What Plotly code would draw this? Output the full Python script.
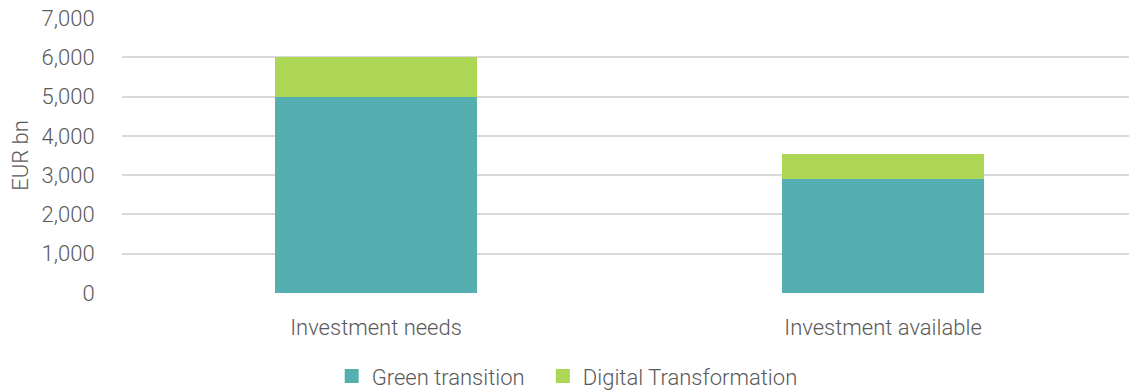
import plotly.graph_objects as go

categories = ["Investment needs", "Investment available"]
green_transition = [5000, 2900]
digital_transformation = [1000, 650]
y_ticks = [0, 1000, 2000, 3000, 4000, 5000, 6000, 7000]

GREEN = "#55AEB0"
LIME = "#ADD654"
TEXT = "#595959"
FONT = "Roboto, Open Sans, sans-serif"

fig = go.Figure()
fig.add_trace(go.Bar(
    name="Green transition", x=categories, y=green_transition,
    marker=dict(color=GREEN, line=dict(width=0)), width=0.4, showlegend=False,
))
fig.add_trace(go.Bar(
    name="Digital Transformation", x=categories, y=digital_transformation,
    marker=dict(color=LIME, line=dict(width=0)), width=0.4, showlegend=False,
))

# legend entries with square swatches, one legend box per series
for name, color, leg in [("Green transition", GREEN, "legend"),
                         ("Digital Transformation", LIME, "legend2")]:
    fig.add_trace(go.Scatter(
        name=name, x=[None], y=[None], mode="markers", legend=leg,
        marker=dict(symbol="square", size=14, color=color),
    ))

legend_style = dict(
    orientation="h", xref="container", yref="container",
    y=0.04, xanchor="left", yanchor="middle",
    font=dict(size=22, color=TEXT, weight=300), itemwidth=30,
    bgcolor="rgba(0,0,0,0)",
)

fig.update_layout(
    barmode="stack",
    width=1129, height=392,
    margin=dict(l=122, r=0, t=18, b=99),
    paper_bgcolor="white", plot_bgcolor="white",
    font=dict(family=FONT, color=TEXT, size=22, weight=300),
    legend=dict(x=0.2938, **legend_style),
    legend2=dict(x=0.4808, **legend_style),
    xaxis=dict(
        type="category", range=[-0.501, 1.485],
        showgrid=False, showline=False, zeroline=False,
        ticks="outside", ticklen=15, tickcolor="rgba(0,0,0,0)",
        tickfont=dict(size=22, color=TEXT, weight=300),
    ),
    yaxis=dict(
        range=[0, 7000], tickvals=y_ticks, tickformat=",d",
        showgrid=True, gridcolor="#D9D9D9", gridwidth=1.5,
        zeroline=False, showline=False,
        ticks="outside", ticklen=22, tickcolor="rgba(0,0,0,0)",
        tickfont=dict(size=22, color=TEXT, weight=300),
        title=dict(text="EUR bn", standoff=6, font=dict(size=22, color=TEXT, weight=300)),
    ),
)

fig.write_html("out.html")
